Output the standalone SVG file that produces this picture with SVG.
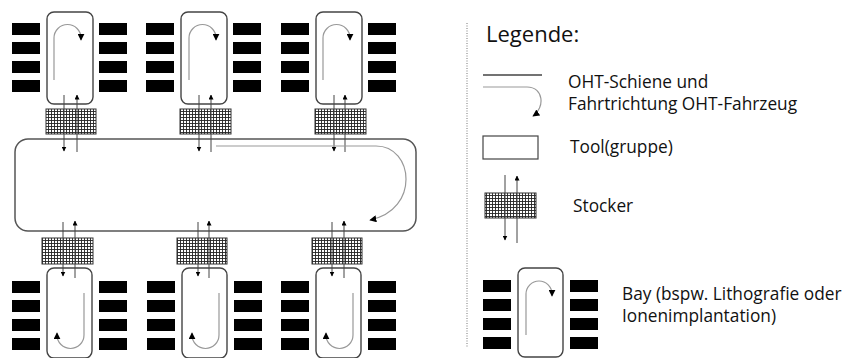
<svg xmlns="http://www.w3.org/2000/svg" width="843" height="358" viewBox="0 0 843 358">
<defs>
<pattern id="grid" width="3" height="3" patternUnits="userSpaceOnUse">
<rect width="3" height="3" fill="#fff"/>
<path d="M0.5,0 V3 M0,0.5 H3" stroke="#222" stroke-width="0.9"/>
</pattern>
<marker id="ah" viewBox="0 0 10 10" refX="9" refY="5" markerWidth="5" markerHeight="5" orient="auto" markerUnits="userSpaceOnUse">
<path d="M0,0 L10,5 L0,10 z" fill="#000"/>
</marker>
<marker id="ah2" viewBox="0 0 10 10" refX="9" refY="5" markerWidth="7" markerHeight="7" orient="auto" markerUnits="userSpaceOnUse">
<path d="M0,0 L10,5 L0,10 z" fill="#000"/>
</marker>
<g id="tools">
<rect x="0" y="0" width="28" height="12"/>
<rect x="0" y="19" width="28" height="12"/>
<rect x="0" y="38" width="28" height="12"/>
<rect x="0" y="57" width="28" height="12"/>
</g>
</defs>
<style>
.bay{fill:#fff;stroke:#444;stroke-width:1.4}
.tool{fill:#000}
.stk{fill:url(#grid);stroke:#333;stroke-width:1}
.rail{fill:none;stroke:#999;stroke-width:1.2}
.io{fill:none;stroke:#444;stroke-width:1}
.loop{fill:#fff;stroke:#555;stroke-width:1.5}
.txt{font-family:"Open Sans","Noto Sans",sans-serif;fill:#111}
</style>

<g id="main-loop"><rect class="loop" x="15" y="139" width="401" height="92" rx="13"/></g>

<g id="bay-top-1">
<rect class="bay" x="47" y="12" width="46" height="92" rx="7"/>
<use href="#tools" x="12" y="23" class="tool"/><use href="#tools" x="99" y="23" class="tool"/>
<path class="rail" d="M54,80 V38 A13.5,13.5 0 0 1 81,38 V40" marker-end="url(#ah2)"/>
</g>
<g id="bay-top-2">
<rect class="bay" x="181" y="12" width="46" height="92" rx="7"/>
<use href="#tools" x="146" y="23" class="tool"/><use href="#tools" x="233" y="23" class="tool"/>
<path class="rail" d="M189,80 V38 A13.5,13.5 0 0 1 216,38 V40" marker-end="url(#ah2)"/>
</g>
<g id="bay-top-3">
<rect class="bay" x="316" y="12" width="46" height="92" rx="7"/>
<use href="#tools" x="281" y="23" class="tool"/><use href="#tools" x="368" y="23" class="tool"/>
<path class="rail" d="M323,80 V38 A13.5,13.5 0 0 1 350,38 V40" marker-end="url(#ah2)"/>
</g>

<g id="stocker-top-1"><rect class="stk" x="46" y="109" width="50" height="25"/></g>
<g id="stocker-top-2"><rect class="stk" x="180" y="109" width="51" height="25"/></g>
<g id="stocker-top-3"><rect class="stk" x="315" y="109" width="51" height="25"/></g>

<g id="bay-bottom-1">
<rect class="bay" x="47" y="268" width="45" height="90" rx="7"/>
<use href="#tools" x="12" y="281" class="tool"/><use href="#tools" x="99" y="281" class="tool"/>
<path class="rail" d="M84,293 V335 A13.5,13.5 0 0 1 57,335 V333" marker-end="url(#ah2)"/>
</g>
<g id="bay-bottom-2">
<rect class="bay" x="182" y="268" width="45" height="90" rx="7"/>
<use href="#tools" x="147" y="281" class="tool"/><use href="#tools" x="234" y="281" class="tool"/>
<path class="rail" d="M219,293 V335 A13.5,13.5 0 0 1 192,335 V333" marker-end="url(#ah2)"/>
</g>
<g id="bay-bottom-3">
<rect class="bay" x="316" y="268" width="45" height="90" rx="7"/>
<use href="#tools" x="281" y="281" class="tool"/><use href="#tools" x="368" y="281" class="tool"/>
<path class="rail" d="M353,293 V335 A13.5,13.5 0 0 1 326,335 V333" marker-end="url(#ah2)"/>
</g>

<g id="stocker-bottom-1"><rect class="stk" x="42" y="238" width="51" height="26"/></g>
<g id="stocker-bottom-2"><rect class="stk" x="177" y="238" width="50" height="26"/></g>
<g id="stocker-bottom-3"><rect class="stk" x="312" y="238" width="50" height="26"/></g>

<g id="connectors">
<path class="io" d="M64,95 V151" marker-end="url(#ah)"/>
<path class="io" d="M77,152 V95" marker-end="url(#ah)"/>
<path class="io" d="M199,95 V151" marker-end="url(#ah)"/>
<path class="io" d="M211,152 V95" marker-end="url(#ah)"/>
<path class="io" d="M334,95 V151" marker-end="url(#ah)"/>
<path class="io" d="M345,152 V95" marker-end="url(#ah)"/>
<path class="io" d="M63,222 V276" marker-end="url(#ah)"/>
<path class="io" d="M75,278 V221" marker-end="url(#ah)"/>
<path class="io" d="M198,222 V276" marker-end="url(#ah)"/>
<path class="io" d="M209,278 V221" marker-end="url(#ah)"/>
<path class="io" d="M332,222 V276" marker-end="url(#ah)"/>
<path class="io" d="M344,278 V221" marker-end="url(#ah)"/>
<path class="rail" d="M216,146 H376 C414,146 420,210 370,220" marker-end="url(#ah2)"/>
</g>

<g id="legend">
<line x1="467" y1="23" x2="467" y2="347" stroke="#777" stroke-width="1" stroke-dasharray="1,1.5"/>
<text class="txt" x="486" y="42" font-size="22">Legende:</text>
<line x1="483" y1="75" x2="542" y2="75" stroke="#444" stroke-width="1.5"/>
<path class="rail" d="M483,87 H527 C544,87 545,108 533,116" marker-end="url(#ah2)"/>
<text class="txt" x="568" y="88" font-size="17.3">OHT-Schiene und</text>
<text class="txt" x="568" y="110" font-size="17.3">Fahrtrichtung OHT-Fahrzeug</text>
<rect x="483" y="136" width="55" height="23" fill="#fff" stroke="#444" stroke-width="1.2"/>
<text class="txt" x="570" y="153" font-size="17.3">Tool(gruppe)</text>
<rect class="stk" x="485" y="193" width="51" height="25"/>
<path class="io" d="M505,175 V240" marker-end="url(#ah)"/>
<path class="io" d="M517,243 V176" marker-end="url(#ah)"/>
<text class="txt" x="573" y="212" font-size="17.3">Stocker</text>
<rect class="bay" x="518" y="268" width="45" height="89" rx="7"/>
<use href="#tools" x="483" y="280" class="tool"/><use href="#tools" x="570" y="280" class="tool"/>
<path class="rail" d="M526,335 V294 A13,13 0 0 1 552,294 V296" marker-end="url(#ah2)"/>
<text class="txt" x="622" y="300" font-size="17.3">Bay (bspw. Lithografie oder</text>
<text class="txt" x="622" y="322" font-size="17.3">Ionenimplantation)</text>
</g>
</svg>
